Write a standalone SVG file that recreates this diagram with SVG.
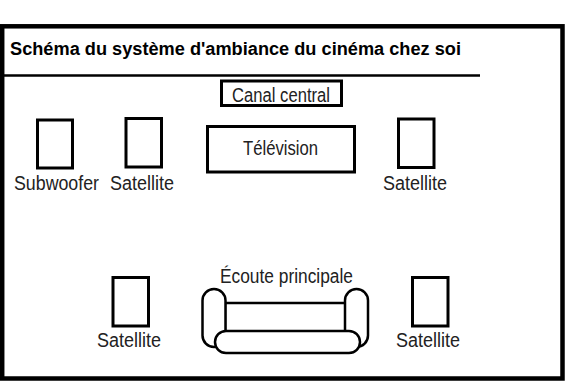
<svg xmlns="http://www.w3.org/2000/svg" width="585" height="381" viewBox="0 0 585 381">
<style>
.box{fill:#fff;stroke:#000;stroke-width:3}
.sofa{fill:#fff;stroke:#000;stroke-width:2.5}
.lbl{font-family:"Liberation Sans",Arial,sans-serif;font-size:19.5px;fill:#222}
.title{font-family:"Liberation Sans",Arial,sans-serif;font-size:18px;font-weight:bold;fill:#000}
</style>
<rect width="585" height="381" fill="#fff"/>
<g id="frame">
<rect x="2.2" y="26.3" width="560.3" height="352.2" fill="none" stroke="#000" stroke-width="4.5"/>
<line x1="4" y1="75.5" x2="480" y2="75.5" stroke="#000" stroke-width="2.5"/>
<text class="title" x="10" y="55" textLength="451" lengthAdjust="spacingAndGlyphs">Schéma du système d'ambiance du cinéma chez soi</text>
</g>
<g id="connectors"/>
<g id="canal-central">
<rect class="box" x="221.5" y="81" width="120" height="24.5"/>
<text class="lbl" x="232" y="102" textLength="98" lengthAdjust="spacingAndGlyphs">Canal central</text>
</g>
<g id="television">
<rect class="box" x="207.5" y="126.5" width="147" height="45.5"/>
<text class="lbl" x="243" y="155" textLength="75" lengthAdjust="spacingAndGlyphs">Télévision</text>
</g>
<g id="subwoofer">
<rect class="box" x="37.5" y="120" width="35" height="48"/>
<text class="lbl" x="14" y="190" textLength="85" lengthAdjust="spacingAndGlyphs">Subwoofer</text>
</g>
<g id="satellite-front-left">
<rect class="box" x="126" y="118.5" width="35.5" height="48.5"/>
<text class="lbl" x="110" y="190" textLength="64" lengthAdjust="spacingAndGlyphs">Satellite</text>
</g>
<g id="satellite-front-right">
<rect class="box" x="398.5" y="119" width="35.5" height="48.5"/>
<text class="lbl" x="383" y="190" textLength="64" lengthAdjust="spacingAndGlyphs">Satellite</text>
</g>
<g id="satellite-rear-left">
<rect class="box" x="113" y="277.5" width="35.5" height="48.5"/>
<text class="lbl" x="97" y="347" textLength="64" lengthAdjust="spacingAndGlyphs">Satellite</text>
</g>
<g id="satellite-rear-right">
<rect class="box" x="412.5" y="277.5" width="35.5" height="48.5"/>
<text class="lbl" x="396" y="347" textLength="64" lengthAdjust="spacingAndGlyphs">Satellite</text>
</g>
<g id="ecoute-principale">
<text class="lbl" x="220" y="283" textLength="133" lengthAdjust="spacingAndGlyphs">Écoute principale</text>
<rect class="sofa" x="225" y="303" width="120.5" height="40"/>
<rect class="sofa" x="202.5" y="289" width="23" height="58" rx="11.5" ry="11.5"/>
<rect class="sofa" x="345" y="289" width="23" height="58" rx="11.5" ry="11.5"/>
<rect class="sofa" x="215" y="331" width="145" height="22" rx="11" ry="11"/>
</g>
</svg>
